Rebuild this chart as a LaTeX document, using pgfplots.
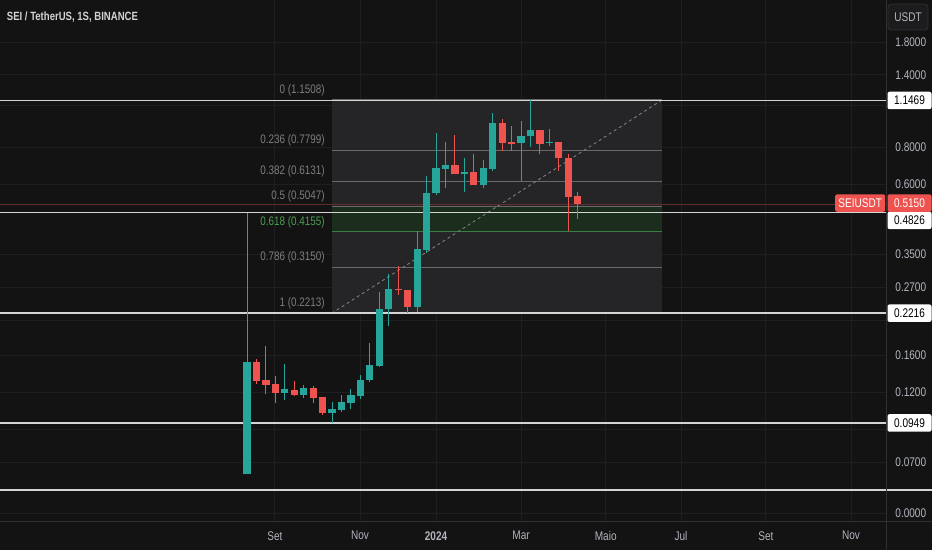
\documentclass[border=0pt]{standalone}
\usepackage{fontspec}
\setmainfont{Liberation Sans}[FakeStretch=0.8]
\usepackage{pgfplots}
\pgfplotsset{compat=1.18}
\definecolor{bgc}{RGB}{19,19,19}
\definecolor{gridc}{RGB}{31,31,31}
\definecolor{sepc}{RGB}{48,48,48}
\definecolor{up}{RGB}{38,166,154}
\definecolor{dn}{RGB}{239,83,80}
\definecolor{tickc}{RGB}{178,181,190}
\definecolor{fibbg}{RGB}{37,37,39}
\definecolor{fibgreen}{RGB}{27,46,30}
\definecolor{fibline}{RGB}{105,105,107}
\definecolor{fibtxt}{RGB}{125,125,130}
\definecolor{fibgtxt}{RGB}{76,160,80}
\definecolor{fibgline}{RGB}{60,125,68}
\definecolor{hline}{RGB}{212,212,212}
\definecolor{pline}{RGB}{95,45,45}
\definecolor{btn}{RGB}{28,28,30}
\newcommand{\candle}[6]{%
  \addplot[#6, line width=1bp] coordinates {(#1,#4) (#1,#3)};
  \addplot[#6, line width=7.2bp] coordinates {(#1,#2) (#1,#5)};
}
\newcommand{\fibl}[2]{%
  \addplot[#2, line width=1.2bp] coordinates {(8.96,#1) (43.9,#1)};
}
\begin{document}
\begin{tikzpicture}
\path[use as bounding box, fill=bgc] (0,-29bp) rectangle (932bp,521bp);
\begin{axis}[
  at={(0,0)}, anchor=south west,
  width=886bp, height=521bp, scale only axis,
  ymode=log, ymin=0.04447, ymax=2.4934,
  xmin=-26.14, xmax=67.62,
  clip=false,
  axis x line*=bottom, axis y line*=right,
  axis line style={sepc, line width=1bp},
  xtick={2.96,11.96,20.0,29.0,37.96,45.93,54.92,63.92},
  xticklabels={Set,Nov,\textbf{2024},Mar,Maio,Jul,Set,Nov},
  ytick={0.0473,0.07,0.09,0.12,0.16,0.21,0.27,0.35,0.6,0.8,1.1,1.4,1.8},
  yticklabels={0.0000,0.0700,,0.1200,0.1600,,0.2700,0.3500,0.6000,0.8000,,1.4000,1.8000},
  minor ytick={}, minor xtick={},
  major tick length=0pt,
  xmajorgrids, ymajorgrids,
  grid style={gridc, line width=1bp},
  xticklabel style={anchor=center, yshift=-14.7bp, font=\fontsize{12.6}{14}\selectfont, text=tickc},
  yticklabel style={anchor=center, xshift=24.8bp, font=\fontsize{12.6}{14}\selectfont, text=tickc},
  /pgf/number format/assume math mode=true,
]
% fib retracement background
\addplot[fill=fibbg, draw=none] coordinates {(8.96,0.2213) (43.9,0.2213) (43.9,1.1508) (8.96,1.1508)};
\addplot[fill=fibgreen, draw=none] coordinates {(8.96,0.4155) (43.9,0.4155) (43.9,0.5047) (8.96,0.5047)};
\fibl{1.1508}{fibline}
\fibl{0.7799}{fibline}
\fibl{0.6131}{fibline}
\fibl{0.5047}{fibline}
\fibl{0.4155}{fibgline}
\fibl{0.3150}{fibline}
\fibl{0.2213}{fibline}
\addplot[fibtxt, line width=0.9bp, dash pattern=on 3bp off 3bp] coordinates {(8.96,0.2213) (43.9,1.1508)};
% price line
\addplot[pline, line width=0.8bp] coordinates {(-26.14,0.515) (67.62,0.515)};
% horizontal levels
\addplot[hline, line width=1.6bp] coordinates {(-26.14,1.1469) (67.62,1.1469)};
\addplot[hline, line width=1.6bp] coordinates {(-26.14,0.4826) (67.62,0.4826)};
\addplot[hline, line width=1.6bp] coordinates {(-26.14,0.2216) (67.62,0.2216)};
\addplot[hline, line width=1.6bp] coordinates {(-26.14,0.0949) (67.62,0.0949)};
\addplot[hline, line width=1.6bp] coordinates {(-26.14,0.0565) (72.5,0.0565)};
% weekly candles: x, open, high, low, close, colour
\candle{0}{0.0639}{0.4805}{0.0639}{0.1519}{up}
\candle{1}{0.1519}{0.1555}{0.1282}{0.1312}{dn}
\candle{2}{0.1322}{0.1719}{0.1187}{0.1272}{dn}
\candle{3}{0.1282}{0.1364}{0.1107}{0.1196}{dn}
\candle{4}{0.1196}{0.1496}{0.1133}{0.1233}{up}
\candle{5}{0.1224}{0.1312}{0.1165}{0.1178}{dn}
\candle{6}{0.1178}{0.1272}{0.1151}{0.1243}{up}
\candle{7}{0.1243}{0.1262}{0.1107}{0.1151}{dn}
\candle{8}{0.1159}{0.1160}{0.1009}{0.1025}{dn}
\candle{9}{0.1025}{0.1115}{0.0949}{0.1057}{up}
\candle{10}{0.1049}{0.1178}{0.1033}{0.1115}{up}
\candle{11}{0.1107}{0.1233}{0.1057}{0.1178}{up}
\candle{12}{0.1169}{0.1374}{0.1142}{0.1322}{up}
\candle{13}{0.1322}{0.1760}{0.1302}{0.1485}{up}
\candle{14}{0.1473}{0.2610}{0.1462}{0.2289}{up}
\candle{15}{0.2289}{0.2999}{0.2007}{0.2671}{up}
\candle{16}{0.2671}{0.3190}{0.2550}{0.2645}{dn}
\candle{17}{0.2651}{0.2652}{0.2219}{0.2325}{dn}
\candle{18}{0.2325}{0.4180}{0.2236}{0.3639}{up}
\candle{19}{0.3610}{0.6397}{0.3527}{0.5609}{up}
\candle{20}{0.5609}{0.8918}{0.5523}{0.6804}{up}
\candle{21}{0.6752}{0.8318}{0.5830}{0.6963}{up}
\candle{22}{0.6963}{0.8781}{0.6490}{0.6496}{dn}
\candle{23}{0.6496}{0.7351}{0.5652}{0.6612}{up}
\candle{24}{0.6597}{0.7582}{0.5960}{0.5967}{dn}
\candle{25}{0.5967}{0.7238}{0.5830}{0.6804}{up}
\candle{26}{0.6752}{1.0408}{0.6648}{0.9635}{up}
\candle{27}{0.9635}{0.9937}{0.7760}{0.8255}{dn}
\candle{28}{0.8318}{0.9414}{0.7760}{0.8223}{dn}
\candle{29}{0.8255}{0.9784}{0.6154}{0.8714}{up}
\candle{30}{0.8714}{1.1508}{0.8003}{0.9127}{up}
\candle{31}{0.9127}{0.9130}{0.7582}{0.8191}{dn}
\candle{32}{0.8255}{0.9198}{0.8065}{0.8318}{up}
\candle{33}{0.8318}{0.8320}{0.6648}{0.7351}{dn}
\candle{34}{0.7351}{0.7582}{0.4180}{0.5439}{dn}
\candle{35}{0.5480}{0.5652}{0.4588}{0.5150}{dn}
% fib labels
\begin{scope}[every node/.style={anchor=east, yshift=10bp, text=fibtxt, font=\fontsize{12.4}{14}\selectfont, inner sep=0pt}]
\node at (axis cs:8.25,1.1508) {0 (1.1508)};
\node at (axis cs:8.25,0.7799) {0.236 (0.7799)};
\node at (axis cs:8.25,0.6131) {0.382 (0.6131)};
\node at (axis cs:8.25,0.5047) {0.5 (0.5047)};
\node[text=fibgtxt] at (axis cs:8.25,0.4155) {0.618 (0.4155)};
\node at (axis cs:8.25,0.3150) {0.786 (0.3150)};
\node at (axis cs:8.25,0.2213) {1 (0.2213)};
\end{scope}
% price scale labels
\begin{scope}[every node/.style={inner sep=0pt, minimum width=44bp, minimum height=17.5bp, rounded corners=2bp, font=\fontsize{12.6}{14}\selectfont}]
\node[anchor=west, xshift=1.3bp, fill=white, text=black] at (axis cs:67.62,1.1469) {1.1469};
\node[anchor=west, xshift=1.3bp, fill=white, text=black] at (axis cs:67.62,0.4542) {0.4826};
\node[anchor=west, xshift=1.3bp, fill=white, text=black] at (axis cs:67.62,0.2216) {0.2216};
\node[anchor=west, xshift=1.3bp, fill=white, text=black] at (axis cs:67.62,0.0949) {0.0949};
\node[anchor=west, xshift=1.3bp, fill=dn, text=white] at (axis cs:67.62,0.519) {0.5150};
\node[anchor=east, xshift=-0.6bp, fill=dn, text=white, minimum width=50bp] at (axis cs:67.62,0.519) {SEIUSDT};
\end{scope}
\end{axis}
\draw[sepc, line width=1bp] (886bp,-29bp) -- (886bp,521bp);
\draw[sepc, line width=1bp] (0,0) -- (932bp,0);
\node[anchor=west, inner sep=0pt, text={rgb,255:red,212;green,212;blue,216}, font=\bfseries\fontsize{12}{14}\selectfont] at (6.7bp,504.3bp) {SEI / TetherUS, 1S, BINANCE};
\draw[fill=btn, draw=sepc, rounded corners=3bp, line width=0.8bp] (888bp,491bp) rectangle (928bp,517bp);
\node[text=tickc, font=\fontsize{12.6}{14}\selectfont] at (908bp,504bp) {USDT};
\end{tikzpicture}
\end{document}
